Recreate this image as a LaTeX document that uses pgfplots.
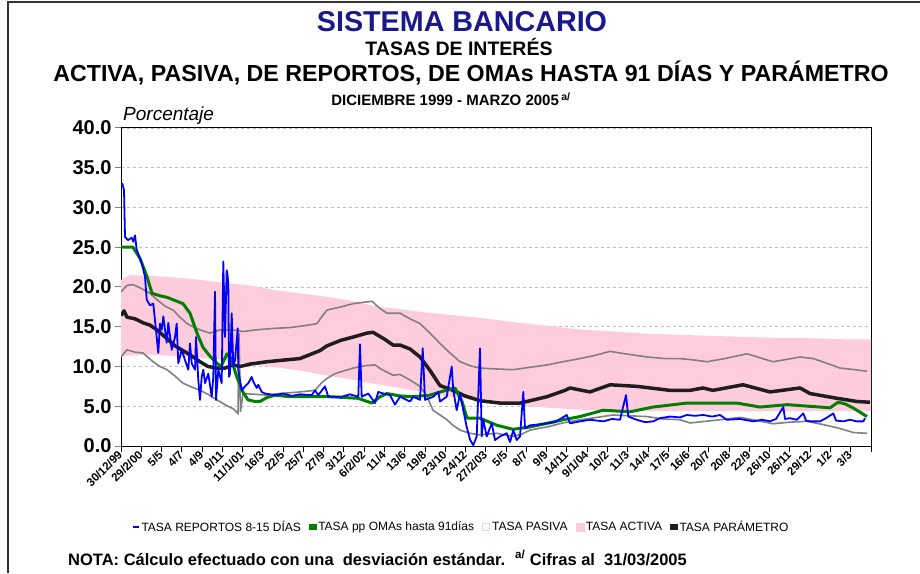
\documentclass[border=0pt]{standalone}
\usepackage{pgfplots}
\pgfplotsset{compat=1.18}
\usepackage{fontspec}
\setmainfont{Liberation Sans}
\definecolor{titleblue}{RGB}{25,25,140}
\definecolor{pinkband}{RGB}{255,204,221}
\definecolor{grayline}{RGB}{128,128,128}
\definecolor{paramblack}{RGB}{30,30,30}
\definecolor{omagreen}{RGB}{0,128,0}
\definecolor{repblue}{RGB}{0,0,255}
\definecolor{gridgray}{RGB}{190,190,190}
\begin{document}
\begin{tikzpicture}[x=1pt,y=1pt]
\path[use as bounding box] (0,0) rectangle (920,573);
\draw[line width=1.5pt, black!80] (8,0) -- (8,571) -- (920,571);
\node[anchor=base, font=\bfseries\fontsize{28.7}{30}\selectfont, text=titleblue] at (462,541) {SISTEMA BANCARIO};
\node[anchor=base, font=\bfseries\fontsize{19.5}{22}\selectfont] at (459,517) {TASAS DE INTERÉS};
\node[anchor=base, font=\bfseries\fontsize{23.2}{25}\selectfont] at (471,491) {ACTIVA, PASIVA, DE REPORTOS, DE OMAs HASTA 91 DÍAS Y PARÁMETRO};
\node[anchor=base, font=\bfseries\fontsize{15}{16}\selectfont] at (451,467) {DICIEMBRE 1999 - MARZO 2005\,\textsuperscript{a/}};
\node[anchor=base west, inner sep=0pt, font=\itshape\fontsize{19}{20}\selectfont] at (123,452) {Porcentaje};
\node[anchor=base west, inner sep=0pt, font=\bfseries\fontsize{16.5}{18}\selectfont] at (68,8) {NOTA: Cálculo efectuado con una\ \ desviación estándar.\hspace{10pt}\textsuperscript{a/} Cifras al\ \ 31/03/2005};
\begin{axis}[
  at={(121pt,127pt)}, anchor=south west, scale only axis,
  width=750pt, height=318pt,
  xmin=121, xmax=871, ymin=0, ymax=40,
  xtick={121,141.2703,...,872},
  xticklabels={30/12/99,29/2/00,5/5,4/7,4/9,9/11,11/1/01,16/3,22/5,25/7,27/9,3/12,6/2/02,11/4,13/6,19/8,23/10,24/12,27/2/03,5/5,8/7,9/9,14/11,9/1/04,10/2,11/3,14/4,17/5,16/6,20/7,20/8,22/9,26/10,26/11,29/12,1/2,3/3,{}},
  xticklabel style={rotate=45, anchor=east, inner sep=1pt, font=\bfseries\fontsize{11.5}{12}\selectfont},
  ytick={0,5,...,40},
  /pgf/number format/assume math mode=true,
  yticklabel={\pgfmathprintnumber[fixed,fixed zerofill,precision=1]{\tick}},
  yticklabel style={font=\bfseries\fontsize{20}{22}\selectfont},
  tick align=outside, tick pos=left, major tick length=6pt,
  xtick style={black, line width=1pt},
  ytick style={grayline, line width=1pt},
  axis line style={black, line width=1pt},
  ymajorgrids,
  major grid style={gridgray, dash pattern=on 3pt off 3pt, line width=0.8pt},
  legend columns=5,
  legend style={at={(0.4533,-0.2547)}, anchor=center, draw=none, fill=none,
    font=\fontsize{12}{14}\selectfont, inner sep=0pt,
    /tikz/every even column/.append style={column sep=6pt}},
  legend cell align=left,
]
% TASA ACTIVA band (upper left-to-right, lower right-to-left)
\addplot[fill=pinkband, draw=none, forget plot] coordinates {
(121,20.9) (130,21.5) (150,21.4) (175,21.2) (200,20.9) (225,20.5) (250,20.2) (275,19.6) (300,19.2) (325,18.8) (350,18.3) (375,17.6) (400,17.2) (425,16.8) (450,16.5) (475,16.2) (500,15.8) (525,15.4) (550,15.1) (575,14.7) (600,14.5) (625,14.3) (650,14.1) (675,14.0) (700,13.9) (725,13.8) (750,13.7) (775,13.6) (800,13.6) (825,13.5) (850,13.4) (871,13.4)
(871,4.4) (800,4.4) (750,4.4) (700,4.4) (650,4.4) (600,4.5) (575,4.6) (550,4.8) (525,5.0) (500,5.4) (475,5.7) (450,6.2) (425,6.7) (400,7.3) (375,7.8) (350,8.4) (325,8.9) (300,9.5) (275,9.9) (250,10.3) (225,10.8) (200,11.1) (175,11.3) (150,11.5) (121,11.3)
} -- cycle;
% gray upper
\addplot[grayline, line width=1.6pt, forget plot] coordinates {
(121,19.4) (127,20.2) (133,20.3) (140,19.9) (150,19.2) (157,18.4) (165,17.6) (173,17.1) (180,16.2) (187,15.4) (193,15.0) (200,14.6) (210,14.2) (220,14.6) (233,14.6) (243,14.4) (255,14.6) (275,14.8) (290,14.9) (308,15.2) (317,15.4) (322,16.3) (327,17.1) (341,17.5) (353,17.9) (365,18.1) (372,18.2) (380,17.3) (387,16.7) (400,16.7) (410,16.0) (420,15.4) (430,14.2) (440,12.9) (450,11.7) (460,10.6) (470,10.1) (480,9.8) (495,9.7) (513,9.6) (530,9.9) (547,10.2) (563,10.6) (580,11.0) (595,11.4) (610,11.9) (625,11.6) (647,11.2) (665,11.0) (680,11.0) (695,10.8) (707,10.6) (725,11.0) (747,11.6) (760,11.1) (773,10.6) (787,10.9) (800,11.2) (813,11.0) (827,10.4) (840,9.8) (855,9.6) (867,9.4)
};
% gray lower
\addplot[grayline, line width=1.6pt, forget plot] coordinates {
(121,11.2) (127,12.1) (135,11.8) (143,11.7) (153,10.6) (160,10.0) (167,9.6) (175,8.8) (183,7.9) (192,7.4) (200,7.0) (208,6.5) (217,5.8) (225,5.2) (233,4.7) (238,4.1) (239,14.2) (240.5,4.3) (243,6.6) (255,6.5) (267,6.4) (280,6.6) (300,6.8) (315,7.0) (322,8.0) (327,8.5) (335,9.1) (353,9.8) (365,10.1) (375,10.2) (382,9.6) (393,8.9) (400,9.0) (410,8.3) (420,7.5) (427,6.2) (433,4.5) (440,3.9) (447,3.3) (453,2.6) (460,2.0) (470,1.6) (480,1.4) (497,1.6) (513,1.2) (522,1.5) (530,2.0) (547,2.4) (563,2.9) (580,3.3) (597,3.6) (613,3.9) (630,3.8) (647,3.7) (663,3.4) (680,3.3) (690,2.9) (705,3.1) (720,3.3) (740,3.6) (757,3.2) (773,2.8) (790,3.0) (807,3.1) (823,2.7) (840,2.2) (853,1.7) (867,1.6)
};
% TASA PARAMETRO
\addplot[paramblack, line width=3.5pt, line join=round, forget plot] coordinates {
(121,16.4) (124,17.0) (127,16.2) (135,16.0) (143,15.5) (150,15.2) (157,14.6) (167,13.5) (175,12.6) (183,12.0) (192,11.3) (200,10.6) (208,10.0) (217,9.8) (225,9.8) (233,10.2) (240,10.0) (250,10.3) (267,10.6) (283,10.8) (300,11.0) (310,11.5) (320,12.0) (327,12.6) (341,13.3) (353,13.7) (367,14.2) (373,14.3) (377,14.0) (385,13.4) (393,12.7) (400,12.7) (410,12.2) (420,11.2) (430,9.5) (440,7.6) (453,7.0) (465,6.3) (480,5.7) (500,5.4) (520,5.4) (547,6.2) (565,7.0) (570,7.3) (590,6.8) (610,7.7) (637,7.5) (670,7.0) (690,7.0) (703,7.3) (713,7.0) (743,7.7) (770,6.8) (800,7.3) (810,6.6) (837,6.0) (857,5.6) (870,5.5)
};
% TASA pp OMAs
\addplot[omagreen, line width=3pt, line join=round, forget plot] coordinates {
(121,25.0) (133,25.0) (140,23.6) (147,21.3) (152,19.2) (160,18.9) (167,18.7) (175,18.3) (183,17.9) (190,16.7) (197,14.2) (203,12.4) (210,11.3) (217,10.4) (221,10.0) (227,11.6) (231,11.0) (236,9.0) (242,7.0) (248,5.8) (255,5.6) (260,5.6) (267,6.1) (275,6.4) (290,6.2) (330,6.2) (358,6.0) (372,5.4) (380,6.2) (387,6.6) (400,6.3) (413,6.2) (430,6.4) (440,6.8) (455,7.3) (462,5.6) (467,3.5) (480,3.5) (497,2.6) (513,2.1) (530,2.4) (547,2.85) (563,3.3) (580,3.7) (603,4.5) (630,4.3) (653,4.9) (687,5.4) (737,5.4) (760,4.9) (787,5.2) (820,4.9) (830,4.8) (838,5.5) (845,5.3) (853,4.8) (867,3.7)
};
% TASA REPORTOS 8-15 DIAS
\addplot[repblue, line width=1.8pt, line join=round, forget plot] coordinates {
(121.5,32.8) (122.3,33.0) (124,32.2) (125,26.3) (128,25.9) (131.7,26.2) (133.3,25.7) (135,26.5) (136.7,24.7) (141.7,23.0) (145,21.3) (146.7,18.4) (150,17.7) (153.3,17.9) (155,15.8) (158.3,11.7) (160,15.4) (161.7,14.6) (163.3,16.3) (166.7,13.0) (168.3,15.5) (171.7,12.1) (175,13.7) (176.7,15.4) (178.3,10.4) (181.7,12.1) (185,10.8) (188.3,9.6) (190,12.9) (191.7,10.4) (195,9.6) (196,13.7) (198.3,8.3) (200,5.8) (201.7,8.7) (203.3,9.6) (205,7.9) (208.3,9.1) (211.7,6.2) (213.3,8.7) (215,19.4) (216,5.8) (218.3,9.6) (221.7,7.9) (223.3,23.2) (225,13.7) (226.7,22.1) (227.5,21.5) (228.3,20.5) (229,8.7) (230,9.1) (231.7,16.7) (233.3,10.0) (235,10.8) (237.7,14.8) (238.3,9.6) (240,8.3) (241.7,7.0) (245,7.5) (248.3,7.9) (251.7,8.7) (253.3,8.1) (256.7,7.3) (258.3,7.7) (261.7,6.8) (265,6.6) (275,6.4) (283,6.6) (291.7,6.3) (300,6.5) (311.7,6.4) (315,7.0) (318.3,6.4) (325,7.5) (328.3,6.2) (341.7,6.2) (350,6.5) (358.3,6.2) (360,12.8) (361.7,6.2) (368.3,6.6) (375,5.4) (378.3,6.8) (383.3,6.6) (390,6.4) (395,5.2) (400,6.2) (410,5.6) (413.3,6.2) (420,5.8) (422.7,12.3) (425,5.8) (433.3,6.2) (438.3,6.8) (440,5.6) (446.7,6.2) (451.7,10.0) (453.3,7.0) (456.7,4.5) (460,6.6) (463.3,4.5) (466.7,2.4) (470,0.8) (473.3,0.1) (476.7,1.2) (480,12.3) (481.7,1.2) (483.3,3.3) (486.7,1.2) (491.7,2.85) (495,0.75) (500,1.2) (506.7,1.6) (510,0.5) (513.3,2.0) (516.7,0.75) (520,1.2) (523.3,6.8) (525,2.2) (530,2.6) (538,2.7) (546.7,2.85) (555,3.0) (566.7,3.9) (570,2.85) (580,3.1) (590,3.3) (603.3,3.1) (612,3.4) (620,3.3) (626,6.4) (628.3,3.7) (636.7,3.3) (645,3.0) (653.3,3.1) (660,3.5) (670,3.7) (680,3.6) (686.7,3.9) (695,3.8) (703.3,3.9) (712,3.7) (720,3.9) (726.7,3.3) (740,3.4) (753.3,3.1) (762,3.3) (770,3.1) (776,3.4) (783.3,4.9) (785,3.4) (790,3.5) (796.7,3.3) (803.3,4.1) (806,3.2) (810,3.1) (820,3.1) (826,3.5) (833.3,4.1) (836,3.2) (843.3,3.1) (850,3.3) (856.7,3.1) (863.3,3.1) (865,3.5)
};
\addlegendimage{legend image code/.code={\draw[repblue,line width=2pt] (0pt,0pt) -- (6pt,0pt);}}
\addlegendentry{TASA REPORTOS 8-15 DÍAS}
\addlegendimage{legend image code/.code={\fill[omagreen] (0pt,-2.5pt) rectangle (7pt,2.5pt);}}
\addlegendentry{TASA pp OMAs hasta 91días}
\addlegendimage{legend image code/.code={\draw[pinkband, fill=white, line width=1pt] (0pt,-3.5pt) rectangle (7pt,3.5pt);}}
\addlegendentry{TASA PASIVA}
\addlegendimage{legend image code/.code={\fill[pinkband] (0pt,-4pt) rectangle (8pt,4pt);}}
\addlegendentry{TASA ACTIVA}
\addlegendimage{legend image code/.code={\fill[paramblack] (0pt,-2.5pt) rectangle (7pt,2.5pt);}}
\addlegendentry{TASA PARÁMETRO}
\end{axis}
\end{tikzpicture}
\end{document}
